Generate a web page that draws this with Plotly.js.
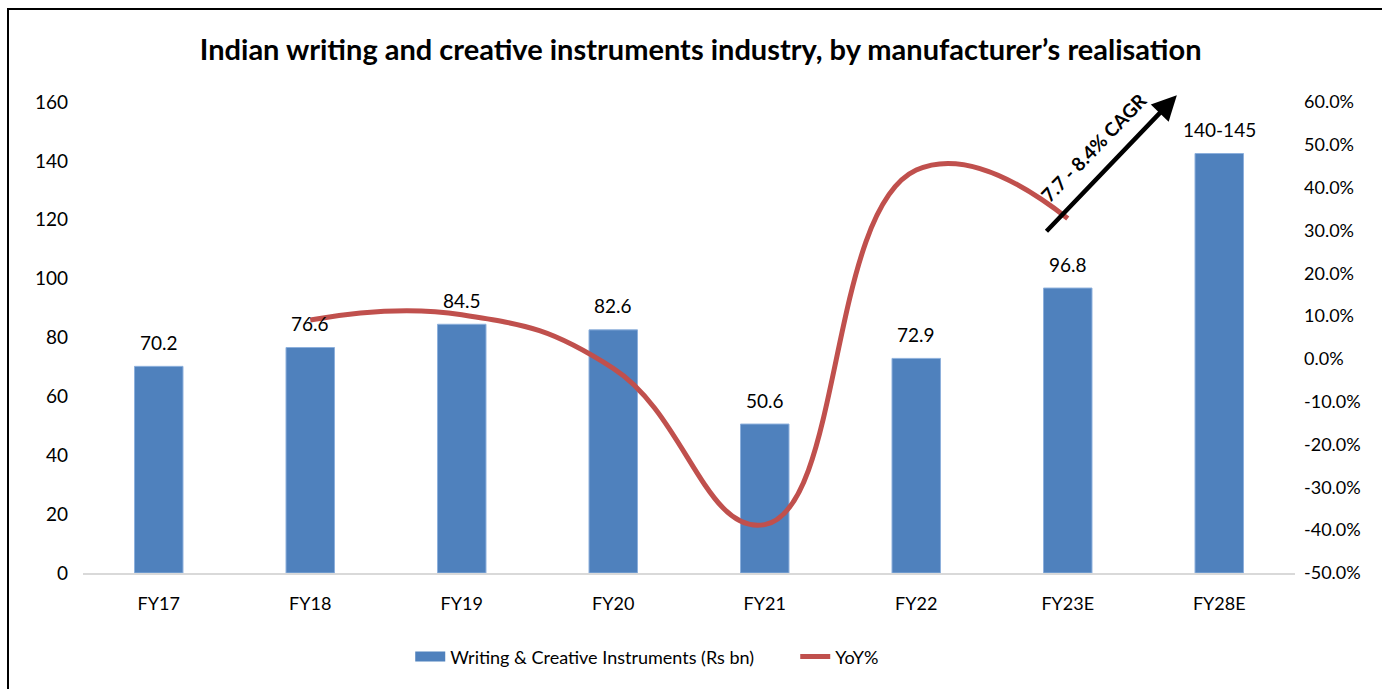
<!DOCTYPE html>
<html>
<head>
<meta charset="utf-8">
<script src="https://cdn.plot.ly/plotly-3.0.1.min.js"></script>
<style>
  html, body { margin: 0; padding: 0; background: #fff; }
  #chart { position: absolute; left: 0; top: 0; width: 1382px; height: 689px; }
  #frame { position: absolute; left: 7px; top: 8px; width: 1400px; height: 700px;
           border-left: 2px solid #000; border-top: 2px solid #000; pointer-events: none; z-index: 10; }
</style>
</head>
<body>
<div id="chart"></div>
<div id="frame"></div>
<script>
const categories = ["FY17", "FY18", "FY19", "FY20", "FY21", "FY22", "FY23E", "FY28E"];
const marketValues = [70.2, 76.6, 84.5, 82.6, 50.6, 72.9, 96.8, 142.5];
const marketLabels = ["70.2", "76.6", "84.5", "82.6", "50.6", "72.9", "96.8", "140-145"];
const yoyValues = [null, 9.1, 10.3, -2.2, -38.7, 44.1, 32.8, null];
const leftTicks = [0, 20, 40, 60, 80, 100, 120, 140, 160];
const rightTicks = [-50, -40, -30, -20, -10, 0, 10, 20, 30, 40, 50, 60];
const rightTickLabels = rightTicks.map(v => v.toFixed(1) + "%");
const cagrText = "7.7 - 8.4% CAGR";
const barName = "Writing & Creative Instruments (Rs bn)";
const lineName = "YoY%";

const FONT = "Lato, 'Open Sans', sans-serif";
const BAR_COLOR = "#4F81BD";
const LINE_COLOR = "#C0504D";

const traces = [
  {
    type: "bar",
    name: barName,
    x: categories,
    y: marketValues,
    showlegend: false,
    marker: { color: BAR_COLOR, line: { color: "#8DB0DC", width: 1 } },
    width: 0.32,
    hoverinfo: "skip"
  },
  {
    // legend-only entry so the bar key shows as a wide block like the original
    type: "scatter",
    mode: "lines",
    name: barName,
    x: [null],
    y: [null],
    line: { color: BAR_COLOR, width: 12 },
    hoverinfo: "skip"
  },
  {
    type: "scatter",
    mode: "lines",
    name: lineName,
    x: categories,
    y: yoyValues,
    yaxis: "y2",
    line: { color: LINE_COLOR, width: 5, shape: "spline", smoothing: 1.3 },
    connectgaps: false,
    hoverinfo: "skip"
  }
];

const labelAnnotations = categories.map((c, i) => ({
  x: c, y: marketValues[i], xref: "x", yref: "y",
  text: marketLabels[i],
  showarrow: false,
  yanchor: "middle",
  yshift: 24,
  font: { family: FONT, size: 19, color: "#000" }
}));

const layout = {
  width: 1382,
  height: 689,
  margin: { l: 83, r: 87, t: 102, b: 116 },
  paper_bgcolor: "#fff",
  plot_bgcolor: "#fff",
  font: { family: FONT, size: 18, color: "#000" },
  title: {
    text: "<b>Indian writing and creative instruments industry, by manufacturer’s realisation</b>",
    font: { family: FONT, size: 29, color: "#000" },
    x: 0.507, xanchor: "center",
    y: 0.927, yanchor: "middle"
  },
  showlegend: true,
  legend: {
    orientation: "h",
    x: 0.27, xanchor: "left",
    y: -0.178, yanchor: "middle",
    font: { family: FONT, size: 18, color: "#000" },
    entrywidth: 340,
    entrywidthmode: "pixels",
    tracegroupgap: 0
  },
  xaxis: {
    type: "category",
    showgrid: false,
    showline: true,
    linecolor: "#D9D9D9",
    linewidth: 1.5,
    ticks: "",
    tickfont: { family: FONT, size: 18, color: "#000" },
    ticklabelstandoff: 14,
    zeroline: false
  },
  yaxis: {
    range: [0, 160],
    tickvals: leftTicks,
    ticktext: leftTicks.map(String),
    showgrid: false,
    zeroline: false,
    showline: false,
    ticks: "",
    tickfont: { family: FONT, size: 19, color: "#000" },
    ticklabelstandoff: 14
  },
  yaxis2: {
    overlaying: "y",
    side: "right",
    range: [-50, 60],
    tickvals: rightTicks,
    ticktext: rightTickLabels,
    showgrid: false,
    zeroline: false,
    showline: false,
    ticks: "",
    tickfont: { family: FONT, size: 18, color: "#000" },
    ticklabelstandoff: 8
  },
  annotations: labelAnnotations.concat([
    {
      x: 6.72, y: 162.3, xref: "x", yref: "y",
      ax: 5.85, ay: 115.6, axref: "x", ayref: "y",
      showarrow: true, arrowhead: 2, arrowsize: 1.1, arrowwidth: 4.5, arrowcolor: "#000",
      text: ""
    },
    {
      x: 6.17, y: 144.5, xref: "x", yref: "y",
      text: "<b>" + cagrText + "</b>",
      showarrow: false,
      textangle: -46,
      font: { family: FONT, size: 19, color: "#000" }
    }
  ])
};

Plotly.newPlot("chart", traces, layout, { displayModeBar: false, staticPlot: true });
</script>
</body>
</html>
